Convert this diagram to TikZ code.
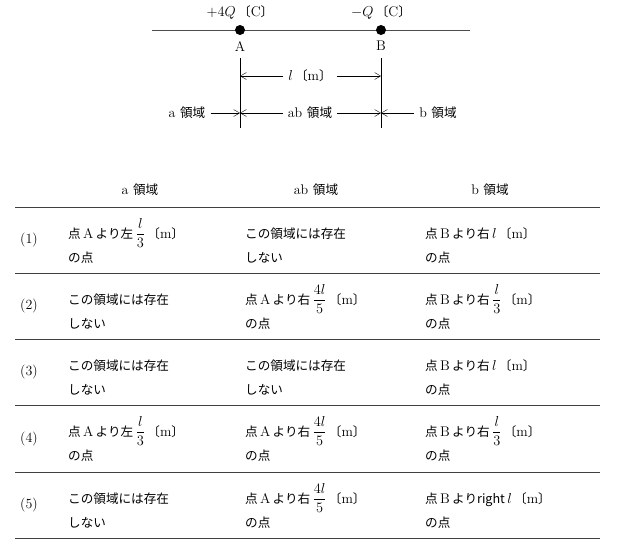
\documentclass[tikz,border=0pt]{standalone}
\usepackage{amsmath}
\usepackage{fontspec}
\newfontfamily\jp{Noto Sans CJK JP}[Scale=0.9]
\usetikzlibrary{arrows.meta}
\tikzset{
  lbl/.style={inner sep=0pt, font=\fontsize{14}{16}\selectfont},
  cellline/.style={inner sep=0pt, anchor=base west, font=\fontsize{14}{16}\selectfont},
  dim/.style={-{Straight Barb[length=6pt,width=7pt]}, thin},
  rule/.style={line width=0.6pt, black!75}
}
\newcommand{\unitm}{{\jp 〔}m{\jp 〕}}
\newcommand{\nonecell}[2]{%
  \node[cellline] at (#1,#2+31) {\jp この領域には存在};
  \node[cellline] at (#1,#2+55) {\jp しない};}
\newcommand{\ptcell}[5]{% x, top, point, side, amount
  \node[cellline] at (#1,#2+31) {{\jp 点}\,#3\,{\jp より#4}\,#5\,\unitm};
  \node[cellline] at (#1,#2+55) {\jp の点};}
\begin{document}
\begin{tikzpicture}[x=1pt,y=-1pt]
\useasboundingbox (0,0) rectangle (621,552);
% charge line
\draw[black!70] (152,30) -- (470,30);
\fill (240,30) circle (5);
\fill (381,30) circle (5);
\node[lbl] (qa) at (240,12) {$+4Q$\,{\jp 〔}C{\jp 〕}};
\node[lbl] (qb) at (381,12) {$-Q$\,{\jp 〔}C{\jp 〕}};
\node[lbl] (pa) at (240,46) {A};
\node[lbl] (pb) at (381,46) {B};
\coordinate (a1) at (240,58); \coordinate (a2) at (240,128);
\coordinate (b1) at (381,58); \coordinate (b2) at (381,128);
\draw (a1) -- (a2);
\draw (b1) -- (b2);
% distance
\node[lbl] (len) at (310,76) {$l$\,\unitm};
\draw[dim] (len.west) ++(-5,0) -- (240,76);
\draw[dim] (len.east) ++(5,0) -- (381,76);
% regions
\node[lbl] (ra) at (187,113) {a {\jp 領域}};
\node[lbl] (rab) at (310,113) {ab {\jp 領域}};
\node[lbl] (rb) at (438,113) {b {\jp 領域}};
\draw[dim] (ra.east) ++(5,0) -- (240,113);
\draw[dim] (rab.west) ++(-5,0) -- (240,113);
\draw[dim] (rab.east) ++(5,0) -- (381,113);
\draw[dim] (rb.west) ++(-5,0) -- (381,113);
% table
\node[lbl] (ha) at (140,190) {a {\jp 領域}};
\node[lbl] (hab) at (316,190) {ab {\jp 領域}};
\node[lbl] (hb) at (490,190) {b {\jp 領域}};
\draw[rule, line width=0.9pt] (15,207) -- (600,207);
\foreach \y in {273,339,405,472} \draw[rule] (15,\y) -- (600,\y);
\draw[rule, line width=0.9pt] (15,538) -- (600,538);
\foreach \n [count=\i from 0] in {1,...,5}
  \node[lbl] at (29,{240+66.2*\i}) {(\n)};
% row 1
\ptcell{68}{207}{A}{左}{$\displaystyle\frac{l}{3}$}
\nonecell{245}{207}
\ptcell{425}{207}{B}{右}{$l$}
% row 2
\nonecell{68}{273}
\ptcell{245}{273}{A}{右}{$\displaystyle\frac{4l}{5}$}
\ptcell{425}{273}{B}{右}{$\displaystyle\frac{l}{3}$}
% row 3
\nonecell{68}{339}
\nonecell{245}{339}
\ptcell{425}{339}{B}{右}{$l$}
% row 4
\ptcell{68}{405}{A}{左}{$\displaystyle\frac{l}{3}$}
\ptcell{245}{405}{A}{右}{$\displaystyle\frac{4l}{5}$}
\ptcell{425}{405}{B}{右}{$\displaystyle\frac{l}{3}$}
% row 5
\nonecell{68}{472}
\ptcell{245}{472}{A}{右}{$\displaystyle\frac{4l}{5}$}
\ptcell{425}{472}{B}{right}{$l$}
\end{tikzpicture}
\end{document}
